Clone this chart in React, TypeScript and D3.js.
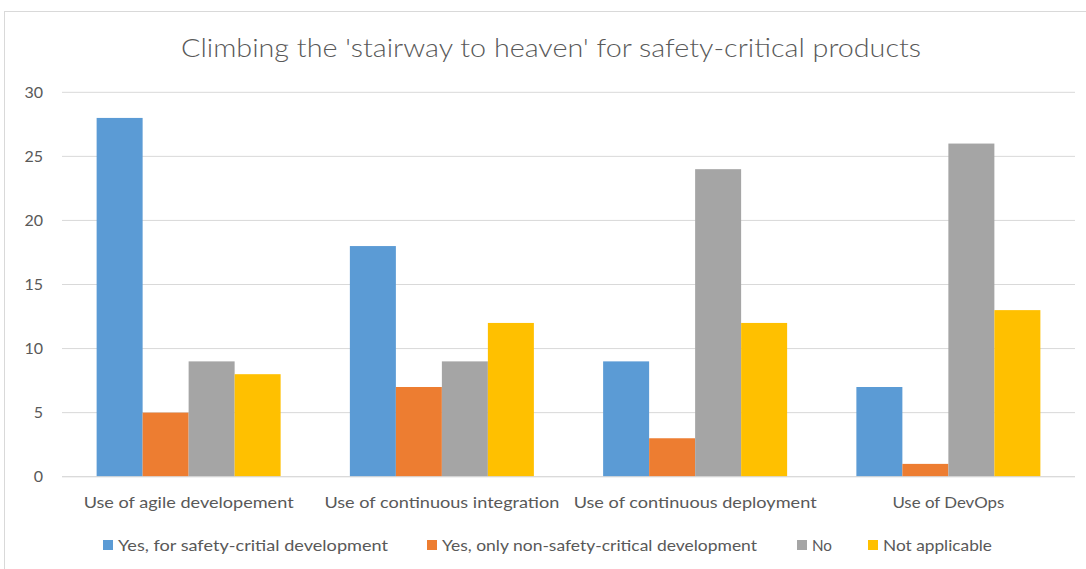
import React from "react";
import * as d3 from "d3";

const categories = [
  "Use of agile developement",
  "Use of continuous integration",
  "Use of continuous deployment",
  "Use of DevOps",
];
const seriesNames = [
  "Yes, for safety-critial development",
  "Yes, only non-safety-critical development",
  "No",
  "Not applicable",
];
const yesSafety = [28, 18, 9, 7];
const yesNonSafety = [5, 7, 3, 1];
const no = [9, 9, 24, 26];
const notApplicable = [8, 12, 12, 13];
const yTicks = [0, 5, 10, 15, 20, 25, 30];

const colors = ["#5B9BD5", "#ED7D31", "#A5A5A5", "#FFC000"];
const W = 1086;
const H = 569;
const FONT = "Lato, 'Open Sans', sans-serif";
const TEXT = "#595959";

// legend layout: square x and text width
const legendX = [103, 427, 797, 868];
const legendW = [270, 315, 20, 109];
const catW = [210, 235, 243, 112];

export default function App() {
  const series = [yesSafety, yesNonSafety, no, notApplicable];
  const left = 62;
  const right = 1075;
  const top = 92.3;
  const bottom = 476.7;
  const x0 = d3.scaleBand<string>().domain(categories).range([left, right]).paddingInner(0).paddingOuter(0);
  const groupW = 184;
  const x1 = d3
    .scaleBand<number>()
    .domain(d3.range(series.length))
    .range([(x0.bandwidth() - groupW) / 2, (x0.bandwidth() + groupW) / 2])
    .padding(0);
  const y = d3.scaleLinear().domain([0, 30]).range([bottom, top]);

  return (
    <svg
      width={W}
      height={H}
      style={{ position: "absolute", left: 0, top: 0, background: "#fff" }}
      fontFamily={FONT}
    >
      <rect x={0} y={0} width={W} height={H} fill="#fff" />
      <rect x={4.5} y={11.5} width={W + 10} height={H + 10} fill="none" stroke="#D9D9D9" strokeWidth={1} />
      <text
        x={551}
        y={57}
        textAnchor="middle"
        fontSize={25}
        fontWeight={300}
        fill={TEXT}
        textLength={740}
        lengthAdjust="spacingAndGlyphs"
      >
        Climbing the 'stairway to heaven' for safety-critical products
      </text>
      {yTicks.map((t) => (
        <g key={t}>
          <line x1={left} x2={right} y1={y(t)} y2={y(t)} stroke="#D9D9D9" strokeWidth={1} />
          <text x={43} y={y(t)} dy="0.35em" textAnchor="end" fontSize={16} fill={TEXT}>
            {t}
          </text>
        </g>
      ))}
      {categories.map((c, ci) => (
        <g key={c} transform={`translate(${x0(c)},0)`}>
          {series.map((s, si) => (
            <rect
              key={si}
              x={x1(si)}
              y={y(s[ci])}
              width={x1.bandwidth()}
              height={y(0) - y(s[ci])}
              fill={colors[si]}
            />
          ))}
          <text
            x={x0.bandwidth() / 2}
            y={502}
            dy="0.35em"
            textAnchor="middle"
            fontSize={16}
            fill={TEXT}
            textLength={catW[ci]}
            lengthAdjust="spacingAndGlyphs"
          >
            {c}
          </text>
        </g>
      ))}
      <line x1={left} x2={right} y1={bottom} y2={bottom} stroke="#D9D9D9" strokeWidth={1} />
      {seriesNames.map((n, i) => (
        <g key={n}>
          <rect x={legendX[i]} y={540} width={10} height={10} fill={colors[i]} />
          <text
            x={legendX[i] + 15}
            y={545}
            dy="0.35em"
            fontSize={16}
            fill={TEXT}
            textLength={legendW[i]}
            lengthAdjust="spacingAndGlyphs"
          >
            {n}
          </text>
        </g>
      ))}
    </svg>
  );
}
